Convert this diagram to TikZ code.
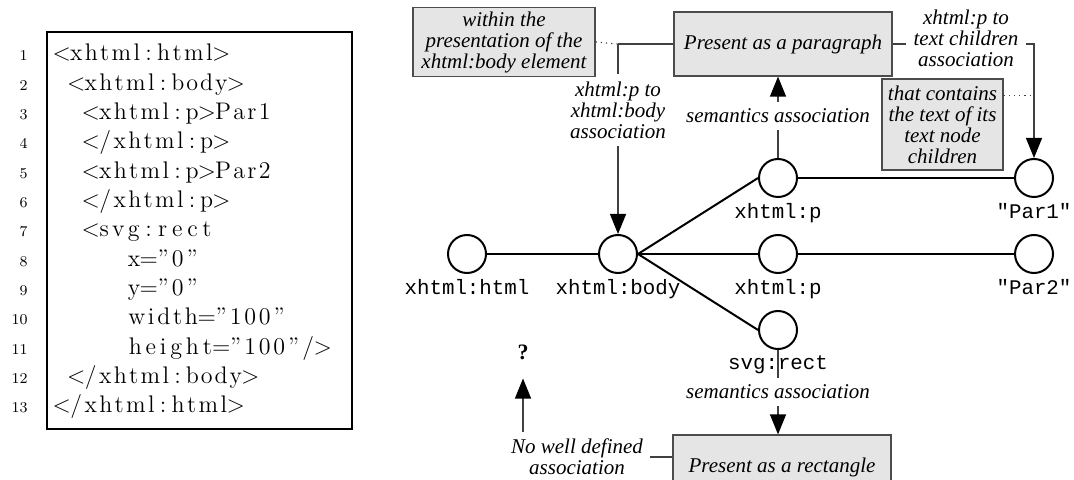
\documentclass[tikz,border=0pt]{standalone}
\usepackage{fontspec}
\setmonofont{Liberation Mono}
\newfontfamily\labelfont{Liberation Serif}
\usetikzlibrary{arrows.meta}

\newlength{\codecol}
\setlength{\codecol}{7.25pt}
\newcount\codelen
\def\codecount#1{\ifx#1\relax\else\advance\codelen by 1 \expandafter\codecount\fi}
\def\codespread#1{\ifx#1\relax\else\hss#1\hss\expandafter\codespread\fi}
\def\codew#1{\codelen=0 \codecount#1\relax\hbox to \codelen\codecol{\codespread#1\relax}}

\tikzset{
	elem/.style={circle,draw,line width=1pt,minimum size=19pt,inner sep=0pt},
	every label/.style={font=\ttfamily\fontsize{10.4}{10.4}\selectfont,inner sep=2.5pt},
	label distance=0pt,
	edge/.style={line width=1pt},
	note/.style={draw=black!70,fill=gray!20,line width=0.6pt,align=center,inner sep=2pt,
		font=\labelfont\itshape\fontsize{10.5}{10.5}\selectfont},
	txt/.style={align=center,inner sep=3.5pt,
		font=\labelfont\itshape\fontsize{10.5}{10.5}\selectfont},
	assoc/.style={draw=black!75,line width=0.6pt},
	num/.style={anchor=base east,inner sep=0pt,font=\fontsize{7.5}{7.5}\selectfont},
	code/.style={anchor=base west,inner sep=0pt,font=\fontsize{12}{12}\selectfont}
}

\begin{document}
\begin{tikzpicture}[x=0.5pt,y=-0.5pt,>={Triangle[length=10pt,width=8pt,color=black]}]

\def\rowh{29.3}

\useasboundingbox (0,0) rectangle (1074,480);

%
% Quelltext
%
\begin{scope}
	\draw[line width=1pt] (47,32) rectangle (352,429);
	\foreach \n/\ind/\txt in {
		1/0/{\codew<\codew{xhtml}\codew:\codew{html}\codew>},
		2/1/{\codew<\codew{xhtml}\codew:\codew{body}\codew>},
		3/2/{\codew<\codew{xhtml}\codew:\codew{p}\codew>\codew{Par1}},
		4/2/{\codew<\codew/\codew{xhtml}\codew:\codew{p}\codew>},
		5/2/{\codew<\codew{xhtml}\codew:\codew{p}\codew>\codew{Par2}},
		6/2/{\codew<\codew/\codew{xhtml}\codew:\codew{p}\codew>},
		7/2/{\codew<\codew{svg}\codew:\codew{rect}},
		8/5/{\codew{x}\codew=\codew”\codew{0}\codew”},
		9/5/{\codew{y}\codew=\codew”\codew{0}\codew”},
		10/5/{\codew{width}\codew=\codew”\codew{100}\codew”},
		11/5/{\codew{height}\codew=\codew”\codew{100}\codew”\codew/\codew>},
		12/1/{\codew<\codew/\codew{xhtml}\codew:\codew{body}\codew>},
		13/0/{\codew<\codew/\codew{xhtml}\codew:\codew{html}\codew>}}{
		\node[num] (num\n) at (28,{61+\rowh*(\n-1)}) {\n};
		\node[code] (code\n) at ({54+14.5*\ind},{61+\rowh*(\n-1)}) {\txt};
	}
\end{scope}

%
% Baum der Elemente
%
\begin{scope}
	\node[elem,label={below:{xhtml:html}}] (html) at (467,254) {};
	\node[elem,label={below:{xhtml:body}}] (body) at (618,254) {};
	\node[elem,label={below:{xhtml:p}}] (p1) at (778,178) {};
	\node[elem,label={below:{xhtml:p}}] (p2) at (778,254) {};
	\node[elem,label={below:{svg:rect}}] (rect) at (778,330) {};
	\node[elem,label={below:{"Par1"}}] (par1) at (1034,178) {};
	\node[elem,label={below:{"Par2"}}] (par2) at (1034,254) {};

	\draw[edge] (html) -- (body);
	\foreach \t in {p1,p2,rect}{
		\draw[edge] (body.east) -- (\t.west);
	}
	\draw[edge] (p1) -- (par1);
	\draw[edge] (p2) -- (par2);
\end{scope}

%
% Darstellung und Assoziationen
%
\begin{scope}
	\node[note,minimum width=91pt,minimum height=34pt] (bodynote) at (504,42)
		{within the\\presentation of the\\xhtml:body element};
	\node[note,minimum width=109pt,minimum height=32pt] (para) at (783,44)
		{Present as a paragraph};
	\node[note,minimum width=60.5pt,minimum height=45.5pt] (textnote) at (942.5,124.5)
		{that contains\\the text of its\\text node\\children};
	\node[note,minimum width=109pt,minimum height=32pt] (rectbox) at (782,467)
		{Present as a rectangle};

	\node[txt] (bodylbl) at (618,110) {xhtml:p to\\xhtml:body\\association};
	\node[txt] (semtop) at (778,116) {semantics association};
	\node[txt] (textlbl) at (966,38) {xhtml:p to\\text children\\association};
	\node[txt] (sembot) at (778,392) {semantics association};
	\node[txt] (nolbl) at (577,457) {No well defined\\association};
	\node[font=\labelfont\bfseries\fontsize{11}{11}\selectfont] (unknown) at (523,352) {?};

	\coordinate (bodyjoin) at (bodylbl.north |- para.west);
	\draw[assoc,dotted] (bodynote.east) -- (bodyjoin);
	\draw[assoc] (bodyjoin) -- (para.west);
	\draw[assoc] (bodyjoin) -- (bodylbl.north);
	\draw[assoc,->] (bodylbl.south) -- (body.north);

	\draw[assoc] (p1.north) -- (semtop.south);
	\draw[assoc,->] (semtop.north) -- (semtop.north |- para.south);

	\draw[assoc] (para.east) -- (para.east -| textlbl.west);
	\draw[assoc,->] (para.east -| textlbl.east) -| (par1.north);
	\coordinate (textjoin) at ([yshift=-8.5pt]textnote.north east);
	\draw[assoc,dotted] (textjoin) -- (textjoin -| par1.north);

	\draw[assoc] (rect.south) -- (sembot.north);
	\draw[assoc,->] (sembot.south) -- (sembot.south |- rectbox.north);

	\draw[assoc] (nolbl.east) -- (nolbl.east -| rectbox.west);
	\draw[assoc,->,shorten >=6pt] (nolbl.north -| unknown.south) -- (unknown.south);
\end{scope}

\end{tikzpicture}
\end{document}
